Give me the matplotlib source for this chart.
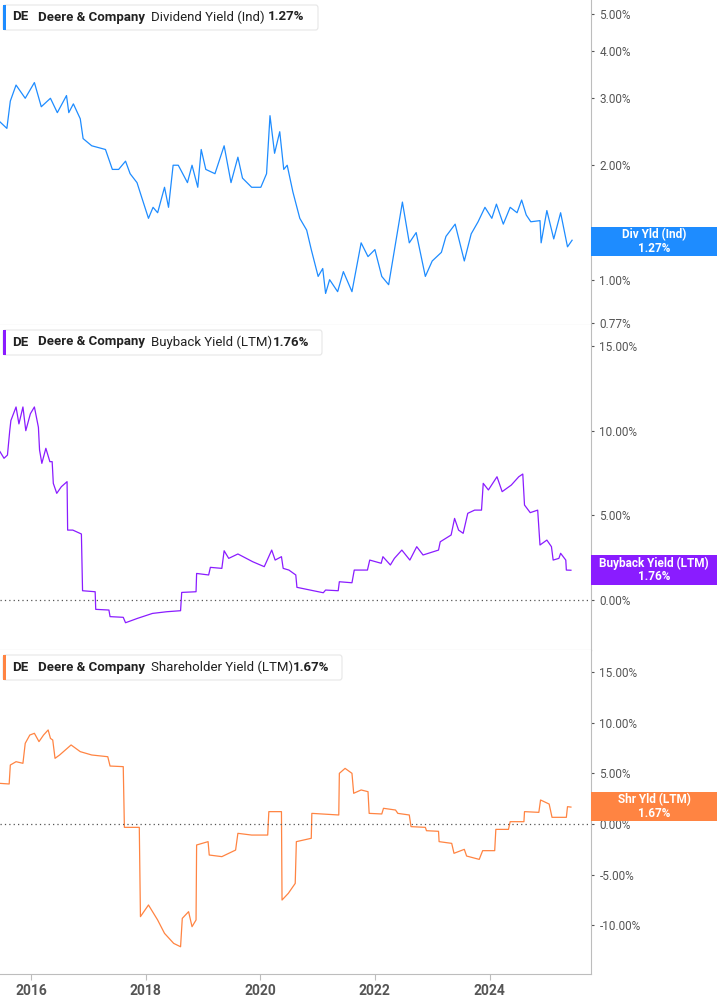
import matplotlib
matplotlib.use("Agg")
from matplotlib import pyplot as plt
from matplotlib.patches import Rectangle, FancyBboxPatch
from matplotlib.ticker import FixedLocator, NullLocator

plt.rcParams['font.family'] = 'Roboto'

# Dividend yield (Ind), %
div_years = [2015.46, 2015.58, 2015.64, 2015.74, 2015.90, 2016.06, 2016.18, 2016.34, 2016.46, 2016.62,
             2016.66, 2016.74, 2016.86, 2016.91, 2017.06, 2017.30, 2017.42, 2017.53, 2017.65, 2017.73,
             2017.85, 2017.93, 2018.05, 2018.13, 2018.21, 2018.33, 2018.40, 2018.48, 2018.57, 2018.73,
             2018.81, 2018.91, 2018.97, 2019.05, 2019.21, 2019.37, 2019.49, 2019.61, 2019.69, 2019.85,
             2020.01, 2020.11, 2020.17, 2020.25, 2020.34, 2020.41, 2020.47, 2020.57, 2020.69, 2020.81,
             2020.89, 2021.01, 2021.09, 2021.14, 2021.21, 2021.35, 2021.45, 2021.60, 2021.76, 2021.88,
             2022.00, 2022.12, 2022.24, 2022.48, 2022.60, 2022.72, 2022.88, 2023.00, 2023.16, 2023.24,
             2023.40, 2023.56, 2023.68, 2023.80, 2023.92, 2024.04, 2024.12, 2024.24, 2024.36, 2024.48,
             2024.56, 2024.64, 2024.72, 2024.88, 2024.90, 2025.00, 2025.12, 2025.24, 2025.36, 2025.44]
div_vals = [2.60, 2.50, 2.95, 3.25, 3.00, 3.30, 2.85, 3.00, 2.75, 3.05,
            2.75, 2.90, 2.65, 2.35, 2.25, 2.20, 1.95, 1.95, 2.05, 1.90,
            1.80, 1.65, 1.45, 1.55, 1.50, 1.75, 1.55, 2.00, 2.00, 1.80,
            2.00, 1.75, 2.20, 1.95, 1.90, 2.25, 1.80, 2.10, 1.85, 1.75,
            1.75, 1.90, 2.70, 2.15, 2.45, 1.95, 2.00, 1.70, 1.45, 1.35,
            1.20, 1.02, 1.07, 0.92, 1.00, 0.93, 1.05, 0.93, 1.25, 1.15,
            1.20, 1.02, 0.97, 1.60, 1.25, 1.33, 1.02, 1.12, 1.18, 1.30,
            1.40, 1.12, 1.32, 1.42, 1.55, 1.45, 1.58, 1.40, 1.55, 1.50,
            1.62, 1.48, 1.42, 1.43, 1.25, 1.52, 1.28, 1.50, 1.22, 1.27]

# Buyback yield (LTM), %
bb_years = [2015.46, 2015.53, 2015.59, 2015.63, 2015.65, 2015.74, 2015.79, 2015.86, 2015.91, 2015.99,
            2016.06, 2016.13, 2016.15, 2016.19, 2016.26, 2016.33, 2016.37, 2016.39, 2016.45, 2016.53,
            2016.63, 2016.64, 2016.73, 2016.88, 2016.90, 2017.12, 2017.13, 2017.36, 2017.38, 2017.61,
            2017.65, 2017.86, 2018.12, 2018.37, 2018.61, 2018.63, 2018.88, 2018.89, 2019.10, 2019.13,
            2019.33, 2019.37, 2019.45, 2019.61, 2019.87, 2020.07, 2020.20, 2020.26, 2020.37, 2020.40,
            2020.50, 2020.62, 2020.64, 2020.87, 2021.10, 2021.14, 2021.36, 2021.38, 2021.60, 2021.64,
            2021.87, 2021.91, 2022.11, 2022.14, 2022.27, 2022.34, 2022.47, 2022.61, 2022.73, 2022.84,
            2023.11, 2023.14, 2023.33, 2023.39, 2023.46, 2023.54, 2023.62, 2023.74, 2023.86, 2023.89,
            2023.98, 2024.13, 2024.22, 2024.38, 2024.51, 2024.58, 2024.61, 2024.71, 2024.84, 2024.88,
            2025.00, 2025.08, 2025.11, 2025.21, 2025.24, 2025.33, 2025.34, 2025.42]
bb_vals = [8.76, 8.37, 8.56, 10.0, 10.6, 11.4, 10.4, 11.4, 10.0, 11.0,
           11.4, 10.2, 8.86, 8.07, 8.96, 8.17, 8.17, 6.89, 6.30, 6.69,
           6.99, 4.13, 4.13, 3.90, 0.55, 0.49, -0.55, -0.59, -0.98, -1.02,
           -1.34, -1.08, -0.79, -0.69, -0.63, 0.45, 0.49, 1.57, 1.48, 1.93,
           1.87, 2.91, 2.46, 2.72, 2.26, 1.97, 2.95, 2.36, 2.56, 1.87,
           1.77, 1.48, 0.75, 0.59, 0.43, 0.59, 0.55, 1.08, 1.02, 1.77,
           1.77, 2.36, 2.17, 2.56, 2.07, 2.46, 2.95, 2.36, 3.15, 2.66,
           2.95, 3.44, 3.84, 4.82, 4.13, 3.94, 5.12, 5.31, 5.31, 6.89,
           6.50, 7.28, 6.40, 6.79, 7.28, 7.44, 5.61, 5.16, 5.31, 3.25,
           3.54, 3.15, 2.36, 2.46, 2.76, 2.36, 1.77, 1.76]

# Shareholder yield (LTM), %
sh_years = [2015.46, 2015.62, 2015.64, 2015.74, 2015.86, 2015.90, 2015.98, 2016.06, 2016.14, 2016.22,
            2016.30, 2016.34, 2016.38, 2016.42, 2016.50, 2016.70, 2016.86, 2017.06, 2017.34, 2017.38,
            2017.61, 2017.63, 2017.89, 2017.91, 2018.05, 2018.21, 2018.33, 2018.49, 2018.61, 2018.64,
            2018.75, 2018.81, 2018.88, 2018.89, 2019.09, 2019.11, 2019.33, 2019.57, 2019.61, 2019.85,
            2020.13, 2020.15, 2020.37, 2020.38, 2020.49, 2020.61, 2020.63, 2020.89, 2020.90, 2021.37,
            2021.38, 2021.48, 2021.60, 2021.63, 2021.76, 2021.88, 2021.90, 2022.12, 2022.15, 2022.36,
            2022.40, 2022.60, 2022.63, 2022.88, 2022.90, 2023.11, 2023.12, 2023.34, 2023.38, 2023.56,
            2023.60, 2023.82, 2023.88, 2024.09, 2024.11, 2024.33, 2024.36, 2024.60, 2024.61, 2024.86,
            2024.89, 2025.04, 2025.09, 2025.34, 2025.36, 2025.42]
sh_vals = [4.01, 3.95, 5.82, 6.15, 5.99, 7.96, 8.78, 8.95, 8.13, 8.78,
           9.28, 8.45, 8.29, 6.48, 6.81, 7.80, 7.14, 6.81, 6.64, 5.72,
           5.66, -0.33, -0.33, -9.14, -7.99, -9.47, -10.79, -11.78, -12.11, -9.31,
           -8.65, -10.13, -9.47, -2.07, -1.74, -3.06, -3.22, -2.57, -0.92, -1.09,
           -1.09, 1.22, 1.22, -7.50, -6.84, -5.86, -1.74, -1.41, 1.05, 0.89,
           5.00, 5.49, 5.00, 3.03, 3.36, 3.19, 1.05, 0.99, 1.55, 1.38,
           1.05, 0.89, -0.26, -0.33, -0.66, -0.72, -1.74, -1.91, -2.89, -2.50,
           -3.16, -3.49, -2.63, -2.63, -0.53, -0.53, 0.23, 0.23, 1.22, 1.15,
           2.37, 1.97, 0.66, 0.66, 1.71, 1.67]

year_ticks = [2016, 2018, 2020, 2022, 2024]
div_ticks = [0.77, 1, 2, 3, 4, 5]
bb_ticks = [0, 5, 10, 15]
sh_ticks = [-10, -5, 0, 5, 10, 15]

BLUE = '#1e8cff'
PURPLE = '#8a1cff'
ORANGE = '#ff8442'
GRID = '#bdbdbd'
TXT = '#555555'

W, H = 717, 1005
fig = plt.figure(figsize=(W / 100, H / 100), dpi=100)


def fx(px):
    return px / W


def fy(py):
    return 1 - py / H


panels = [
    (0, 325, div_years, div_vals, BLUE, 'log', (0.76, 5.44), div_ticks,
     'Dividend Yield (Ind)', '1.27%', 268, 318, 'Div Yld (Ind)\n1.27%', 227, 256),
    (325, 650, bb_years, bb_vals, PURPLE, 'linear', (-2.95, 16.24), bb_ticks,
     'Buyback Yield (LTM)', '1.76%', 273, 322, 'Buyback Yield (LTM)\n1.76%', 555, 585),
    (650, 974, sh_years, sh_vals, ORANGE, 'linear', (-14.8, 17.17), sh_ticks,
     'Shareholder Yield (LTM)', '1.67%', 293, 342, 'Shr Yld (LTM)\n1.67%', 792, 821),
]

for i, (top, bot, xs, ys, col, scale, ylim, ticks, metric, last, vx, boxr, tag, t0, t1) in enumerate(panels):
    ax = fig.add_axes([0, fy(bot), fx(591), (bot - top) / H])
    ax.plot(xs, ys, color=col, lw=0.9)
    ax.set_yscale(scale)
    ax.set_ylim(*ylim)
    ax.set_xlim(2015.46, 2025.77)
    ax.yaxis.tick_right()
    ax.yaxis.set_major_locator(FixedLocator(ticks))
    ax.yaxis.set_minor_locator(NullLocator())
    ax.set_yticklabels(['%.2f%%' % t for t in ticks])
    ax.tick_params(axis='y', colors=TXT, labelsize=8.5, length=2, pad=4, labelcolor=TXT)
    for s in ['left', 'top']:
        ax.spines[s].set_visible(False)
    ax.spines['right'].set_color(GRID)
    ax.spines['bottom'].set_color(GRID)
    if scale == 'linear':
        ax.axhline(0, color='#555555', lw=0.9, ls=(0, (1, 2.5)))
    ax.xaxis.set_major_locator(FixedLocator(year_ticks))
    if i == 2:
        ax.set_xticklabels([str(y) for y in year_ticks])
        ax.tick_params(axis='x', colors=GRID, labelcolor=TXT, labelsize=10, length=4)
        for t in ax.get_xticklabels():
            t.set_fontweight('bold')
    else:
        ax.tick_params(axis='x', length=0, labelbottom=False)

    # legend box top-left
    box = FancyBboxPatch((fx(3), fy(top + 30)), fx(boxr - 3), (25 / H),
                         boxstyle='round,pad=0,rounding_size=0.003', transform=fig.transFigure,
                         facecolor='white', edgecolor='#e6e6e6', lw=0.8, zorder=5)
    fig.add_artist(box)
    fig.add_artist(Rectangle((fx(3), fy(top + 30)), fx(3), 25 / H, transform=fig.transFigure,
                             facecolor=col, edgecolor='none', zorder=6))
    ty = fy(top + 17)
    fig.text(fx(12), ty, 'DE', fontsize=9.5, fontweight='bold', color='#222222', va='center', zorder=7)
    fig.text(fx(38), ty, 'Deere & Company', fontsize=9.5, fontweight='bold', color='#222222', va='center', zorder=7)
    fig.text(fx(151), ty, metric, fontsize=9.5, color='#222222', va='center', zorder=7)
    fig.text(fx(vx), ty, last, fontsize=9.5, fontweight='bold', color='#222222', va='center', zorder=7)

    # right value tag
    fig.add_artist(Rectangle((fx(591), fy(t1)), fx(W - 591), (t1 - t0) / H, transform=fig.transFigure,
                             facecolor=col, edgecolor='none', zorder=6))
    fig.text(fx(654), fy((t0 + t1) / 2), tag, fontsize=8.5, fontweight='bold', color='white',
             ha='center', va='center', linespacing=1.0, zorder=7)

fig.savefig('out.png', dpi=100)
